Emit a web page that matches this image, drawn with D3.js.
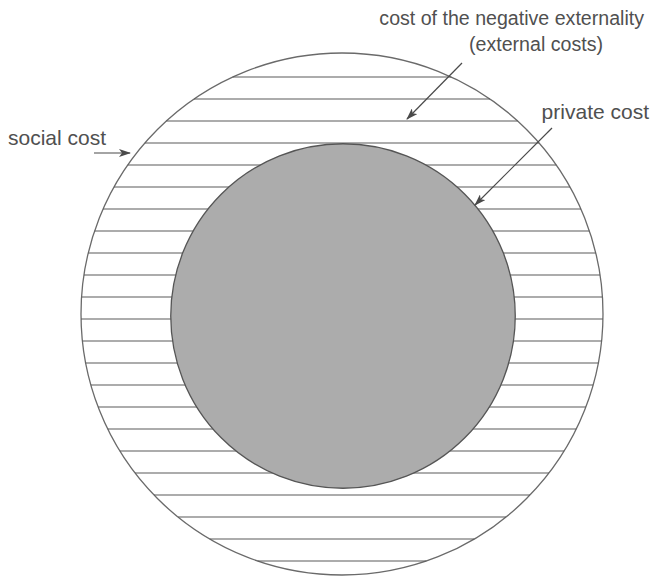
<!DOCTYPE html>
<html>
<head>
<meta charset="utf-8">
<script src="https://cdn.jsdelivr.net/npm/d3@7"></script>
<style>
  html, body { margin: 0; padding: 0; background: #fff; }
  svg { display: block; }
  text { font-family: "Liberation Sans", Arial, Helvetica, sans-serif; fill: #505050; }
</style>
</head>
<body>
<svg id="chart" width="652" height="576"></svg>
<script>
// ---- data ----
const circleNames = ["social cost", "private cost"];
const circleValues = [100, 66];          // relative size (social cost = 100)
const hatchCount = 23;                   // horizontal hatch lines in the external-cost ring
const labelTexts = ["cost of the negative externality", "(external costs)", "private cost", "social cost"];

// ---- layout ----
const cx = 342, cy = 314;
const svg = d3.select("#chart");

const rScale = d3.scaleLinear().domain([0, 100]).range([0, 261]);
const R = rScale(circleValues[0]);
const r = rScale(circleValues[1]);

const yScale = d3.scaleLinear().domain([0, hatchCount - 1]).range([77, 561]);
const hatchYs = d3.range(hatchCount).map(i => yScale(i));

// outer circle (social cost)
svg.append("circle")
  .attr("cx", cx).attr("cy", cy).attr("r", R)
  .attr("fill", "#fff").attr("stroke", "#6a6a6a").attr("stroke-width", 1.3);

// hatch lines (chords of the outer circle)
svg.append("g").selectAll("line")
  .data(hatchYs)
  .join("line")
  .attr("y1", d => d).attr("y2", d => d)
  .attr("x1", d => cx - Math.sqrt(Math.max(0, R * R - (d - cy) * (d - cy))))
  .attr("x2", d => cx + Math.sqrt(Math.max(0, R * R - (d - cy) * (d - cy))))
  .attr("stroke", "#5a5a5a").attr("stroke-width", 1.2);

// inner circle (private cost)
svg.append("circle")
  .attr("cx", cx + 1).attr("cy", cy + 2).attr("r", r)
  .attr("fill", "#acacac").attr("stroke", "#555").attr("stroke-width", 1.3);

// arrowhead marker
svg.append("defs").append("marker")
  .attr("id", "ah").attr("viewBox", "0 0 12 8")
  .attr("refX", 11).attr("refY", 4)
  .attr("markerWidth", 12).attr("markerHeight", 8)
  .attr("markerUnits", "userSpaceOnUse")
  .attr("orient", "auto")
  .append("path").attr("d", "M0,0 L12,4 L0,8 L3,4 Z").attr("fill", "#4a4a4a");

const arrows = [
  [462, 63, 407, 119],
  [552, 128, 475, 205],
  [94, 153, 130, 153]
];
svg.append("g").selectAll("line")
  .data(arrows)
  .join("line")
  .attr("x1", d => d[0]).attr("y1", d => d[1])
  .attr("x2", d => d[2]).attr("y2", d => d[3])
  .attr("stroke", "#4a4a4a").attr("stroke-width", 1.2)
  .attr("marker-end", "url(#ah)");

// labels
svg.append("text").attr("x", 644).attr("y", 25).attr("text-anchor", "end")
  .attr("font-size", 19.6).text(labelTexts[0]);
svg.append("text").attr("x", 536).attr("y", 51).attr("text-anchor", "middle")
  .attr("font-size", 19.6).text(labelTexts[1]);
svg.append("text").attr("x", 649).attr("y", 119).attr("text-anchor", "end")
  .attr("font-size", 21).text(labelTexts[2]);
svg.append("text").attr("x", 8).attr("y", 145).attr("text-anchor", "start")
  .attr("font-size", 21).text(labelTexts[3]);
</script>
</body>
</html>
